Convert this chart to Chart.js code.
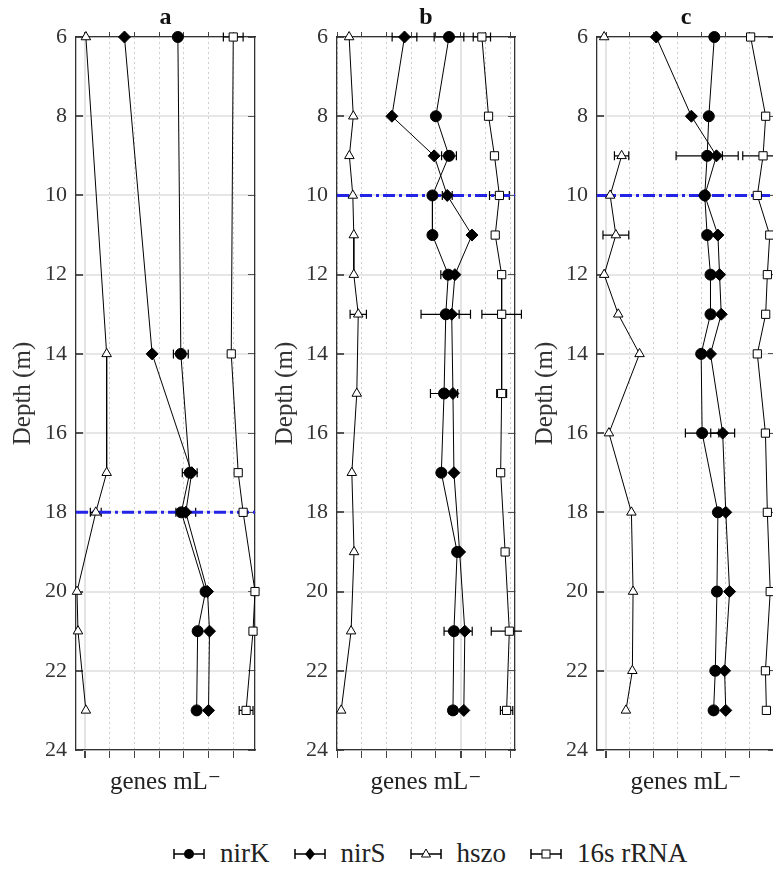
<!DOCTYPE html>
<html>
<head>
<meta charset="utf-8">
<script src="https://cdn.jsdelivr.net/npm/chart.js@4.4.1/dist/chart.umd.min.js"></script>
<style>
  body { margin: 0; background: #fff; }
  #wrap { position: relative; width: 773px; height: 872px; overflow: hidden; background: #fff; }
  canvas { position: absolute; top: 0; }
  #legend {
    position: absolute; top: 838px; left: 173px;
    display: flex; align-items: center;
    font-family: "Liberation Serif", "Times New Roman", Tinos, "DejaVu Serif", serif; font-size: 27px; color: #222;
    white-space: nowrap;
  }
  #legend .item { display: flex; align-items: center; margin-right: 24px; }
  #legend svg { margin-right: 15px; }
</style>
</head>
<body>
<div id="wrap">
  <canvas id="panelA" width="262" height="800" style="left:0px"></canvas>
  <canvas id="panelB" width="260" height="800" style="left:262px"></canvas>
  <canvas id="panelC" width="260" height="800" style="left:522px"></canvas>
  <div id="legend"></div>
</div>
<script>
// ---- data (x in arbitrary log units, one unit = one grid step) ----
const seriesNames = ["nirK", "nirS", "hszo", "16s rRNA"];
const panelTitles = ["a", "b", "c"];
const oxicDepths = [18, 10, 10];
const depthTicks = [6, 8, 10, 12, 14, 16, 18, 20, 22, 24];

// panel a
const depthA = [6, 14, 17, 18, 20, 21, 23];
const nirKA = [3.76, 3.88, 4.24, 3.90, 4.88, 4.56, 4.52];
const nirKErrA = [0, 0.3, 0.3, 0, 0, 0, 0];
const nirSA = [1.60, 2.72, 4.32, 4.08, 4.96, 5.04, 5.00];
const nirSErrA = [0, 0, 0, 0.4, 0, 0, 0];
const hszoA = [0.04, 0.88, 0.88, 0.44, -0.32, -0.28, 0.04];
const hszoErrA = [0, 0, 0, 0.22, 0, 0, 0];
const rrnaA = [6.00, 5.92, 6.20, 6.40, 6.88, 6.80, 6.52];
const rrnaErrA = [0.4, 0, 0, 0, 0, 0, 0.28];

// panel b
const depthB = [6, 8, 9, 10, 11, 12, 13, 15, 17, 19, 21, 23];
const nirKB = [4.53, 4.00, 4.53, 3.86, 3.86, 4.50, 4.40, 4.33, 4.22, 4.86, 4.73, 4.69];
const nirKErrB = [0.6, 0, 0.3, 0, 0, 0.3, 1.0, 0.55, 0, 0, 0.4, 0.15];
const nirSB = [2.73, 2.22, 3.93, 4.46, 5.46, 4.77, 4.64, 4.69, 4.73, 4.96, 5.17, 5.13];
const nirSErrB = [0.5, 0, 0, 0.2, 0, 0, 0.3, 0, 0, 0, 0.3, 0];
const hszoB = [0.49, 0.66, 0.50, 0.64, 0.68, 0.68, 0.86, 0.80, 0.60, 0.69, 0.57, 0.17];
const hszoErrB = [0, 0, 0, 0, 0, 0, 0.33, 0, 0, 0, 0, 0];
const rrnaB = [5.86, 6.13, 6.37, 6.57, 6.40, 6.66, 6.66, 6.66, 6.62, 6.80, 6.97, 6.86];
const rrnaErrB = [0.35, 0, 0, 0.4, 0, 0, 0.8, 0.2, 0, 0, 0.73, 0.25];

// panel c
const depthC = [6, 8, 9, 10, 11, 12, 13, 14, 16, 18, 20, 22, 23];
const nirKC = [4.53, 4.30, 4.23, 4.13, 4.23, 4.37, 4.37, 3.98, 4.02, 4.68, 4.64, 4.57, 4.50];
const nirKErrC = [0, 0, 1.3, 0, 0, 0, 0, 0, 0.7, 0, 0, 0, 0];
const nirSC = [2.10, 3.57, 4.62, 4.13, 4.68, 4.75, 4.82, 4.37, 4.88, 5.01, 5.17, 4.96, 5.01];
const nirSErrC = [0, 0, 0.25, 0, 0, 0, 0, 0, 0.5, 0, 0, 0, 0];
const hszoC = [-0.08, null, 0.65, 0.17, 0.41, -0.08, 0.51, 1.40, 0.12, 1.06, 1.13, 1.10, 0.83];
const hszoErrC = [0, 0, 0.3, 0, 0.54, 0, 0, 0, 0, 0, 0, 0, 0];
const rrnaC = [6.05, 6.68, 6.57, 6.33, 6.85, 6.75, 6.68, 6.33, 6.67, 6.75, 6.87, 6.67, 6.71];
const rrnaErrC = [0, 0, 0.85, 0, 0, 0, 0, 0, 0, 0, 0, 0, 0];

const SERIF = '"Liberation Serif", "Times New Roman", Tinos, "DejaVu Serif", serif';

// marker style per series
const markerStyles = [
  { pointStyle: "circle", pointRadius: 5.5, fill: "#000" },
  { pointStyle: "rectRot", pointRadius: 6, fill: "#000" },
  { pointStyle: "triangle", pointRadius: 5.5, fill: "#fff" },
  { pointStyle: "rect", pointRadius: 5.8, fill: "#fff" }
];

// horizontal error bars, drawn under the markers
const errorBars = {
  id: "errorBars",
  beforeDatasetsDraw(chart) {
    const ctx = chart.ctx;
    const xs = chart.scales.x;
    chart.data.datasets.forEach((ds, di) => {
      if (!ds.errors) return;
      const meta = chart.getDatasetMeta(di);
      ds.errors.forEach((e, i) => {
        const p = ds.data[i];
        if (!e || p.x == null) return;
        const y = meta.data[i].y;
        const x1 = xs.getPixelForValue(p.x - e);
        const x2 = xs.getPixelForValue(p.x + e);
        ctx.save();
        ctx.strokeStyle = "#000";
        ctx.lineWidth = 1.2;
        ctx.beginPath();
        ctx.moveTo(x1, y); ctx.lineTo(x2, y);
        ctx.moveTo(x1, y - 4.5); ctx.lineTo(x1, y + 4.5);
        ctx.moveTo(x2, y - 4.5); ctx.lineTo(x2, y + 4.5);
        ctx.stroke();
        ctx.restore();
      });
    });
  }
};

function makePanel(id, title, depths, values, errors, xMin, xMax, yAxisWidth, majorTicks, oxicDepth) {
  const datasets = values.map((vals, s) => ({
    label: seriesNames[s],
    data: vals.map((v, i) => ({ x: v, y: depths[i] })),
    errors: errors[s],
    borderColor: "#000",
    borderWidth: 1,
    pointStyle: markerStyles[s].pointStyle,
    pointRadius: markerStyles[s].pointRadius,
    pointBackgroundColor: markerStyles[s].fill,
    pointBorderColor: "#000",
    pointBorderWidth: 1,
    tension: 0,
    spanGaps: false,
    clip: false,
    order: 1
  }));

  // blue dash-dot reference line
  datasets.push({
    label: "oxic",
    data: [{ x: xMin, y: oxicDepth }, { x: xMax, y: oxicDepth }],
    borderColor: "#2424e6",
    borderWidth: 3,
    borderDash: [12, 4, 3, 4],
    pointRadius: 0,
    order: 10
  });

  const isMajor = c => c.tick && majorTicks.includes(c.tick.value);
  const gridSteps = s => {
    const t = [];
    for (let v = Math.ceil(s.min); v <= s.max; v++) t.push({ value: v });
    s.ticks = t;
  };

  new Chart(document.getElementById(id), {
    type: "line",
    data: { datasets: datasets },
    plugins: [errorBars],
    options: {
      responsive: false,
      animation: false,
      layout: { padding: 0 },
      plugins: {
        legend: { display: false },
        tooltip: { enabled: false },
        title: {
          display: true,
          text: title,
          fullSize: false,
          color: "#111",
          font: { family: SERIF, size: 24, weight: "bold", lineHeight: 1.0 },
          padding: { top: 6, bottom: 0 }
        }
      },
      scales: {
        x: {
          type: "linear",
          position: "bottom",
          min: xMin,
          max: xMax,
          afterBuildTicks: gridSteps,
          afterFit: s => { s.height = 50; },
          ticks: { display: false },
          grid: {
            color: c => isMajor(c) ? "#e4e4e4" : "#cfcfcf",
            lineWidth: c => isMajor(c) ? 2 : 1,
            tickColor: "#444",
            tickLength: 8
          },
          border: { color: "#333", width: 1.3, dash: c => isMajor(c) ? [] : [2, 3] },
          title: {
            display: true,
            text: "genes mL\u207B",
            color: "#222",
            font: { family: SERIF, size: 25 },
            padding: { top: 0, bottom: 3 }
          }
        },
        xTop: {
          type: "linear",
          position: "top",
          min: xMin,
          max: xMax,
          afterBuildTicks: gridSteps,
          afterFit: s => { s.height = 7; },
          ticks: { display: false },
          grid: { drawOnChartArea: false, tickColor: "#444", tickLength: 5 },
          border: { color: "#333", width: 1.3 }
        },
        y: {
          type: "linear",
          position: "left",
          reverse: true,
          min: 6,
          max: 24,
          afterBuildTicks: s => { s.ticks = depthTicks.map(v => ({ value: v })); },
          afterFit: s => { s.width = yAxisWidth; },
          ticks: { color: "#333", font: { family: SERIF, size: 22 }, padding: 16 },
          grid: { color: "#e6e6e6", lineWidth: 2, tickColor: "#555", tickLength: -7 },
          border: { color: "#333", width: 1.3 },
          title: {
            display: true,
            text: "Depth (m)",
            color: "#333",
            font: { family: SERIF, size: 25 },
            padding: { top: 8, bottom: 0 }
          }
        },
        yRight: {
          type: "linear",
          position: "right",
          reverse: true,
          min: 6,
          max: 24,
          afterBuildTicks: s => { s.ticks = depthTicks.map(v => ({ value: v })); },
          afterFit: s => { s.width = 5; },
          ticks: { display: false },
          grid: { drawOnChartArea: false, tickColor: "#555", tickLength: -7 },
          border: { color: "#333", width: 1.3 }
        }
      }
    }
  });
}

function drawAll() {
  makePanel("panelA", panelTitles[0], depthA,
    [nirKA, nirSA, hszoA, rrnaA], [nirKErrA, nirSErrA, hszoErrA, rrnaErrA],
    -0.36, 6.88, 76, [0], oxicDepths[0]);
  makePanel("panelB", panelTitles[1], depthB,
    [nirKB, nirSB, hszoB, rrnaB], [nirKErrB, nirSErrB, hszoErrB, rrnaErrB],
    0, 7.2, 75, [5], oxicDepths[1]);
  makePanel("panelC", panelTitles[2], depthC,
    [nirKC, nirSC, hszoC, rrnaC], [nirKErrC, nirSErrC, hszoErrC, rrnaErrC],
    -0.38, 7.07, 75, [0], oxicDepths[2]);
}

// legend with error-bar symbols
const legendShapes = [
  '<circle cx="16" cy="8" r="5" fill="#000"/>',
  '<polygon points="16,2 21,8 16,14 11,8" fill="#000"/>',
  '<polygon points="16,3 20.5,11 11.5,11" fill="#fff" stroke="#000" stroke-width="1"/>',
  '<rect x="12" y="4" width="8" height="8" fill="#fff" stroke="#000" stroke-width="1"/>'
];
const legend = document.getElementById("legend");
seriesNames.forEach((name, i) => {
  const item = document.createElement("div");
  item.className = "item";
  item.innerHTML =
    '<svg width="32" height="16" viewBox="0 0 32 16">' +
    '<path d="M1 8H31M1 3V13M31 3V13" stroke="#000" stroke-width="1.5" fill="none"/>' +
    legendShapes[i] + '</svg><span>' + name + '</span>';
  legend.appendChild(item);
});

// make sure the serif face is ready before the canvases draw text
Promise.all([
  document.fonts.load('22px "Liberation Serif"'),
  document.fonts.load('bold 24px "Liberation Serif"')
]).then(drawAll, drawAll);
</script>
</body>
</html>
